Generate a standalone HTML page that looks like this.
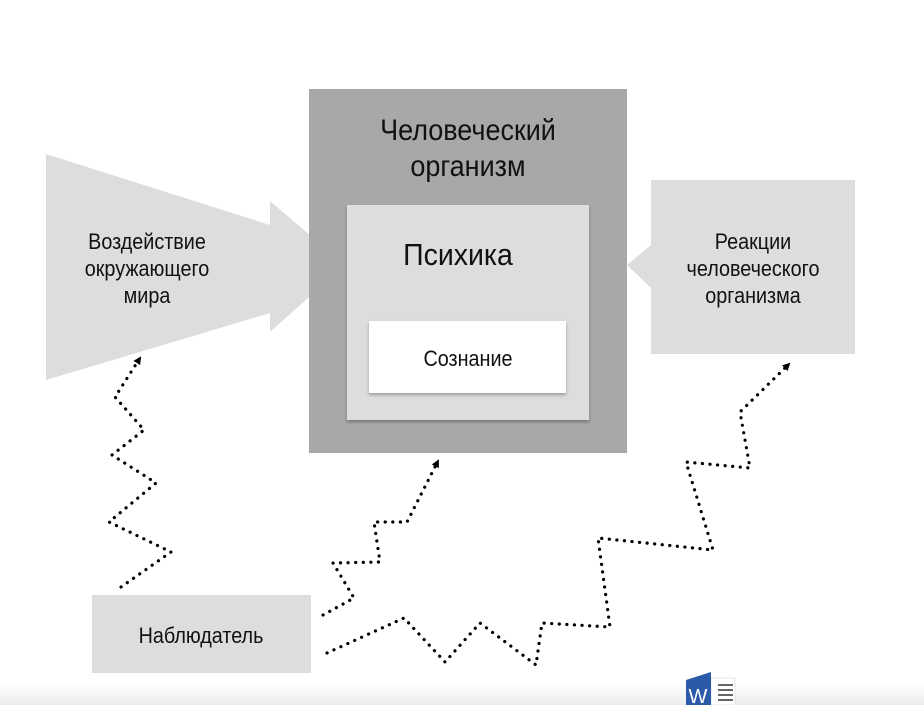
<!DOCTYPE html>
<html><head><meta charset="utf-8"><style>
html,body{margin:0;padding:0;background:#fff;}
svg{display:block;}
text{font-family:"Liberation Sans",sans-serif;fill:#111;}
</style></head><body>
<svg width="924" height="705" viewBox="0 0 924 705" xmlns="http://www.w3.org/2000/svg">
<defs>
<linearGradient id="bg" x1="0" y1="0" x2="0" y2="1">
<stop offset="0" stop-color="#ffffff"/><stop offset="1" stop-color="#ececec"/>
</linearGradient>
<filter id="sh" x="-5%" y="-5%" width="110%" height="115%">
<feDropShadow dx="0" dy="2" stdDeviation="1.5" flood-color="#000" flood-opacity="0.3"/>
</filter>
<marker id="ah" markerWidth="8" markerHeight="8" refX="6" refY="4" orient="auto" markerUnits="userSpaceOnUse">
<path d="M0,0 L8,4 L0,8 Z" fill="#000"/>
</marker>
</defs>
<rect x="0" y="683" width="924" height="22" fill="url(#bg)"/>
<polygon points="46,154 270,225 270,201 345,265 270,332 270,313 46,380" fill="#dcdddd"/>
<polygon points="651,180 855,180 855,354 651,354 651,288 627,265 651,245" fill="#dcdddd"/>
<rect x="309" y="89" width="318" height="364" fill="#a6a9a7"/>
<rect x="347" y="205" width="242" height="215" fill="#dcdddf" filter="url(#sh)"/>
<rect x="369" y="321" width="197" height="72" fill="#ffffff" filter="url(#sh)"/>
<rect x="92" y="595" width="219" height="78" fill="#dcdddd"/>
<g transform="translate(468,0) scale(0.9,1)"><text x="0" y="140" font-size="30" text-anchor="middle">Человеческий</text>
<text x="0" y="176" font-size="30" text-anchor="middle">организм</text></g>
<g transform="translate(458,0) scale(0.92,1)"><text x="0" y="265" font-size="31" text-anchor="middle">Психика</text></g>
<g transform="translate(468,0) scale(0.9,1)"><text x="0" y="366" font-size="22" text-anchor="middle">Сознание</text></g>
<g transform="translate(147,0) scale(0.9,1)">
<text x="0" y="249" font-size="22" text-anchor="middle">Воздействие</text>
<text x="0" y="276" font-size="22" text-anchor="middle">окружающего</text>
<text x="0" y="303" font-size="22" text-anchor="middle">мира</text></g>
<g transform="translate(753,0) scale(0.9,1)">
<text x="0" y="249" font-size="22" text-anchor="middle">Реакции</text>
<text x="0" y="276" font-size="22" text-anchor="middle">человеческого</text>
<text x="0" y="303" font-size="22" text-anchor="middle">организма</text></g>
<g transform="translate(201,0) scale(0.9,1)"><text x="0" y="643" font-size="22" text-anchor="middle">Наблюдатель</text></g>
<g fill="none" stroke="#000" stroke-width="3.2" stroke-linecap="round" stroke-dasharray="0.1 7.5" marker-end="url(#ah)">
<polyline points="121,587 171,552 109,522 156,483 112,455 144,430 115,397 140,358"/>
<polyline points="323,615 354,598 333,563 380,562 374,522 407,522 438,461"/>
<polyline points="327,653 404,618 445,662 480,623 536,665 542,623 610,627 598,538 713,550 686,462 750,468 740,412 789,364"/>
</g>
<rect x="711" y="678" width="24" height="27" fill="#fff" stroke="#ccc" stroke-width="0.5"/>
<g stroke="#333" stroke-width="1.5"><line x1="718" y1="685" x2="733" y2="685"/><line x1="718" y1="690" x2="733" y2="690"/><line x1="718" y1="695" x2="733" y2="695"/><line x1="718" y1="700" x2="733" y2="700"/></g>
<polygon points="686,680 711,672 711,705 686,705" fill="#2b5aa8"/>
<text x="698" y="703" font-size="20" text-anchor="middle" style="fill:#fff">W</text>
</svg>
</body></html>
